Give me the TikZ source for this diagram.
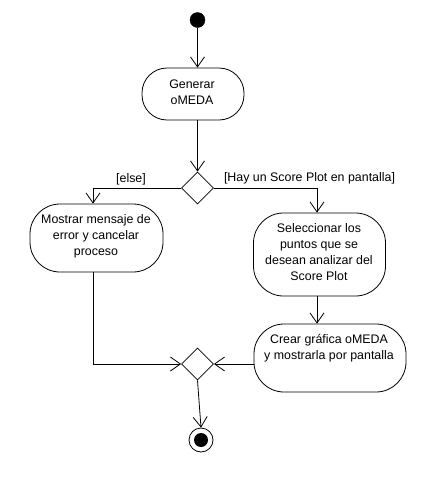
\documentclass[tikz,border=0pt]{standalone}
\usepackage{fontspec}
\setmainfont{Liberation Sans}
\usetikzlibrary{arrows.meta,shapes.geometric}
\begin{document}
\begin{tikzpicture}[x=1pt,y=-1pt,
  every node/.style={font=\fontsize{12.4}{16}\selectfont},
  act/.style={draw,rounded corners=30pt,line width=0.8pt,inner sep=0pt},
  txt/.style={align=center,inner sep=0pt},
  dec/.style={draw,diamond,line width=0.8pt,minimum width=32pt,minimum height=32pt,inner sep=0pt},
  flow/.style={line width=0.8pt,-{Straight Barb[length=10pt,width=14pt,line width=0.8pt]}},
  guard/.style={inner sep=0pt}]
\useasboundingbox (0,0) rectangle (444,493);
% start
\node[circle,fill=black,draw,minimum size=15pt,inner sep=0pt] (start) at (197.5,20) {};
% activities
\node[act,rounded corners=25pt,minimum width=102pt,minimum height=52pt] (gen) at (193,94) {};
\node[txt] (gent) at (192,92) {Generar\\oMEDA};
\node[dec] (d1) at (197.5,188) {};
\node[guard] (else) at (131,179) {[else]};
\node[guard] (hay) at (309.5,178) {[Hay un Score Plot en pantalla]};
\node[act,minimum width=133pt,minimum height=68pt] (most) at (96.5,238) {};
\node[txt] (mostt) at (96,236) {Mostrar mensaje de\\error y cancelar\\proceso};
\node[act,minimum width=132pt,minimum height=83pt] (sel) at (319.5,254.5) {};
\node[txt] (selt) at (319,252) {Seleccionar los\\puntos que se\\desean analizar del\\Score Plot};
\node[act,minimum width=152pt,minimum height=68pt] (crear) at (330,358) {};
\node[txt] (creart) at (329,348) {Crear gráfica oMEDA\\y mostrarla por pantalla};
\node[dec] (d2) at (197.5,364) {};
% end
\node[circle,draw,line width=0.8pt,minimum size=24pt,inner sep=0pt] (end) at (201,440) {};
\node[circle,fill=black,minimum size=14pt,inner sep=0pt] (endin) at (end.center) {};
% connectors
\draw[flow] (start) -- (gen.north -| start);
\draw[flow] (gen.south -| d1) -- (d1.north);
\draw[flow] (d1.west) -| (93,0 |- most.north);
\draw[flow] (d1.east) -| (317,0 |- sel.north);
\draw[flow] (sel.south -| 317,0) -- (crear.north -| 317,0);
\draw[flow] (most.south -| 93,0) |- (d2.west);
\draw[flow] (d2 -| crear.west) -- (d2.east);
\draw[flow] (d2.south) -- (end.north);
\end{tikzpicture}
\end{document}
